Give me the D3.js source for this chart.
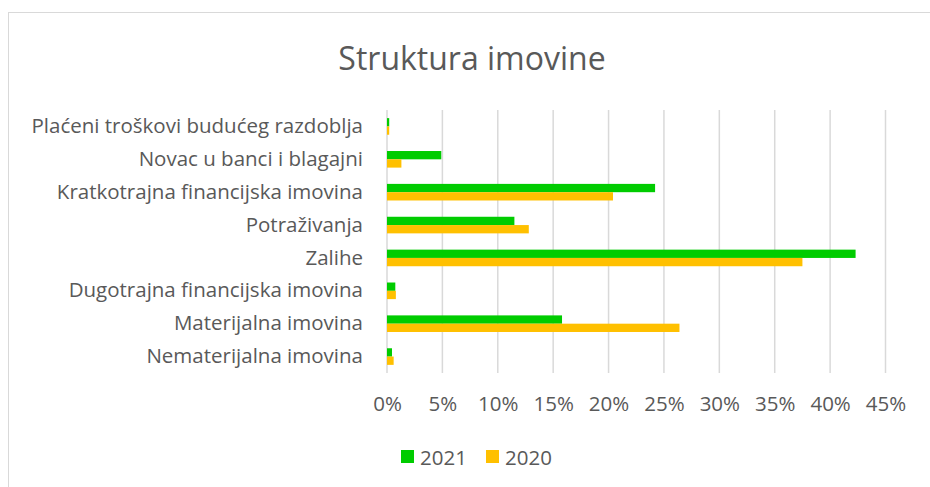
<!DOCTYPE html>
<html>
<head>
<meta charset="utf-8">
<script src="https://cdn.jsdelivr.net/npm/d3@7"></script>
<style>
  body { margin: 0; background: #fff; }
  text { font-family: "Open Sans", "Noto Sans", sans-serif; fill: #595959; }
</style>
</head>
<body>
<div id="chart-container"></div>
<script>
// categories, top to bottom
const categories = [
  'Plaćeni troškovi budućeg razdoblja',
  'Novac u banci i blagajni',
  'Kratkotrajna financijska imovina',
  'Potraživanja',
  'Zalihe',
  'Dugotrajna financijska imovina',
  'Materijalna imovina',
  'Nematerijalna imovina'
];
const seriesNames = ['2021', '2020'];
const values2021 = [0.002, 0.049, 0.242, 0.115, 0.423, 0.0075, 0.158, 0.0045];
const values2020 = [0.002, 0.013, 0.204, 0.128, 0.375, 0.008, 0.264, 0.006];
const tickValues = [0, 0.05, 0.10, 0.15, 0.20, 0.25, 0.30, 0.35, 0.40, 0.45];
const colors = { '2021': '#00CC00', '2020': '#FFC000' };

const width = 930;
const height = 487;

const svg = d3.select('#chart-container')
  .append('svg')
  .attr('width', width)
  .attr('height', height);

// chart frame
svg.append('rect')
  .attr('x', 8.5).attr('y', 12.5)
  .attr('width', 940).attr('height', 500)
  .attr('fill', '#fff')
  .attr('stroke', '#D9D9D9');

svg.append('text')
  .attr('x', 472).attr('y', 57)
  .attr('text-anchor', 'middle')
  .attr('dominant-baseline', 'central')
  .style('font-size', '32px')
  .text('Struktura imovine');

const xScale = d3.scaleLinear()
  .domain([0, 0.45])
  .range([387, 885.5]);

const yScale = d3.scaleBand()
  .domain(categories)
  .range([110, 373]);

const groupH = 16.6;
const ySub = d3.scaleBand()
  .domain(seriesNames)
  .range([-groupH / 2, groupH / 2]);

// gridlines
svg.append('g')
  .selectAll('line')
  .data(tickValues)
  .enter()
  .append('line')
  .attr('x1', d => xScale(d)).attr('x2', d => xScale(d))
  .attr('y1', 110).attr('y2', 373)
  .attr('stroke', '#D9D9D9')
  .attr('stroke-width', 1.5);

// bars
const rows = categories.map((c, i) => ({ cat: c, vals: [values2021[i], values2020[i]] }));
const groups = svg.append('g')
  .selectAll('g')
  .data(rows)
  .enter()
  .append('g')
  .attr('transform', d => `translate(0, ${yScale(d.cat) + yScale.bandwidth() / 2})`);

groups.selectAll('rect')
  .data(d => d.vals.map((v, j) => ({ name: seriesNames[j], v })))
  .enter()
  .append('rect')
  .attr('x', xScale(0))
  .attr('y', d => ySub(d.name))
  .attr('width', d => xScale(d.v) - xScale(0))
  .attr('height', ySub.bandwidth())
  .attr('fill', d => colors[d.name]);

// axes (labels only, no lines)
const xAxis = d3.axisBottom(xScale)
  .tickValues(tickValues)
  .tickFormat(d3.format('.0%'))
  .tickSize(0)
  .tickPadding(0);

const gx = svg.append('g')
  .attr('transform', 'translate(0, 404)')
  .call(xAxis);
gx.select('.domain').remove();
gx.selectAll('text')
  .attr('y', 0)
  .attr('dy', '0.35em')
  .style('font-size', '20.5px')
  .attr('fill', '#595959')
  .attr('font-family', null);

const yAxis = d3.axisLeft(yScale).tickSize(0).tickPadding(24);
const gy = svg.append('g')
  .attr('transform', `translate(${xScale(0)}, 0)`)
  .call(yAxis);
gy.select('.domain').remove();
gy.selectAll('text')
  .style('font-size', '20.5px')
  .attr('fill', '#595959')
  .attr('font-family', null);

// legend
const legend = svg.append('g')
  .selectAll('g')
  .data(seriesNames)
  .enter()
  .append('g')
  .attr('transform', (d, i) => `translate(${401 + i * 85}, 450)`);

legend.append('rect')
  .attr('width', 13).attr('height', 13)
  .attr('fill', d => colors[d]);

legend.append('text')
  .attr('x', 19).attr('y', 7)
  .attr('dominant-baseline', 'central')
  .style('font-size', '20.5px')
  .text(d => d);
</script>
</body>
</html>
